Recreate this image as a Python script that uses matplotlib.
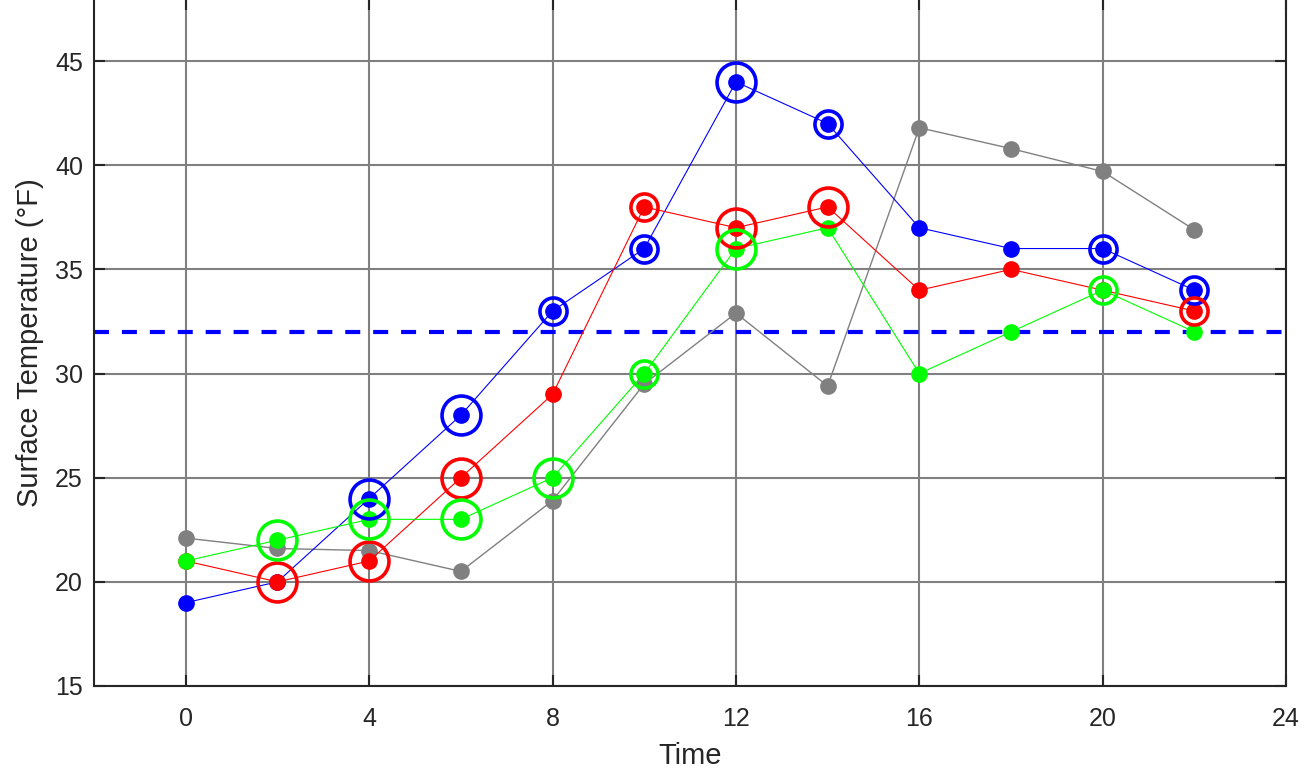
import matplotlib.pyplot as plt

plt.rcParams['font.family'] = ['Liberation Sans', 'DejaVu Sans']

hours = [0, 2, 4, 6, 8, 10, 12, 14, 16, 18, 20, 22]

blue_temp = [19, 20, 24, 28, 33, 36, 44, 42, 37, 36, 36, 34]
red_temp = [21, 20, 21, 25, 29, 38, 37, 38, 34, 35, 34, 33]
green_temp = [21, 22, 23, 23, 25, 30, 36, 37, 30, 32, 34, 32]
gray_temp = [22.1, 21.6, 21.5, 20.5, 23.9, 29.5, 32.9, 29.4, 41.8, 40.8, 39.7, 36.9]

# hours that get a big / small ring around the dot
blue_big = [4, 6, 12]
blue_small = [8, 10, 14, 20, 22]
red_big = [2, 4, 6, 12, 14]
red_small = [10, 22]
green_big = [2, 4, 6, 8, 12]
green_small = [10, 20]

freezing = 32

fig = plt.figure(figsize=(13.07, 7.82), dpi=100)
ax = fig.add_axes([0.072, 0.1228, 0.912, 0.879])

ax.plot(hours, gray_temp, '-o', color='#808080', lw=1.0, ms=11, zorder=3)

series = [
    (blue_temp, '#0000ff', blue_big, blue_small),
    (red_temp, '#ff0000', red_big, red_small),
    (green_temp, '#00ff00', green_big, green_small),
]

for temps, col, big, small in series:
    ax.plot(hours, temps, '-o', color=col, lw=0.8, ms=11, zorder=3)
    bx = [h for h in hours if h in big]
    by = [temps[hours.index(h)] for h in bx]
    sx = [h for h in hours if h in small]
    sy = [temps[hours.index(h)] for h in sx]
    ax.plot(bx, by, 'o', mfc='none', mec=col, ms=28, mew=2.6, zorder=4)
    ax.plot(sx, sy, 'o', mfc='none', mec=col, ms=19.5, mew=2.6, zorder=4)

ax.axhline(freezing, color='#0000ff', lw=3, dashes=(3.6, 3.1), zorder=2)

ax.set_xlim(-2, 24)
ax.set_ylim(15, 48)
ax.set_xticks(range(0, 25, 4))
ax.set_yticks(range(15, 46, 5))
ax.grid(True, color='#808080', lw=1.5)
ax.set_axisbelow(True)
ax.tick_params(direction='in', length=8, width=1.5, top=True, right=True,
               labelsize=18, colors='#262626')
ax.tick_params(axis='x', pad=15)
ax.tick_params(axis='y', pad=8)
for s in ax.spines.values():
    s.set_color('#262626')
    s.set_linewidth(1.5)

ax.set_xlabel('Time', fontsize=21, color='#262626', labelpad=8)
ax.set_ylabel('Surface Temperature (°F)', fontsize=21, color='#262626', labelpad=8)

fig.savefig('out.png', dpi=100)
